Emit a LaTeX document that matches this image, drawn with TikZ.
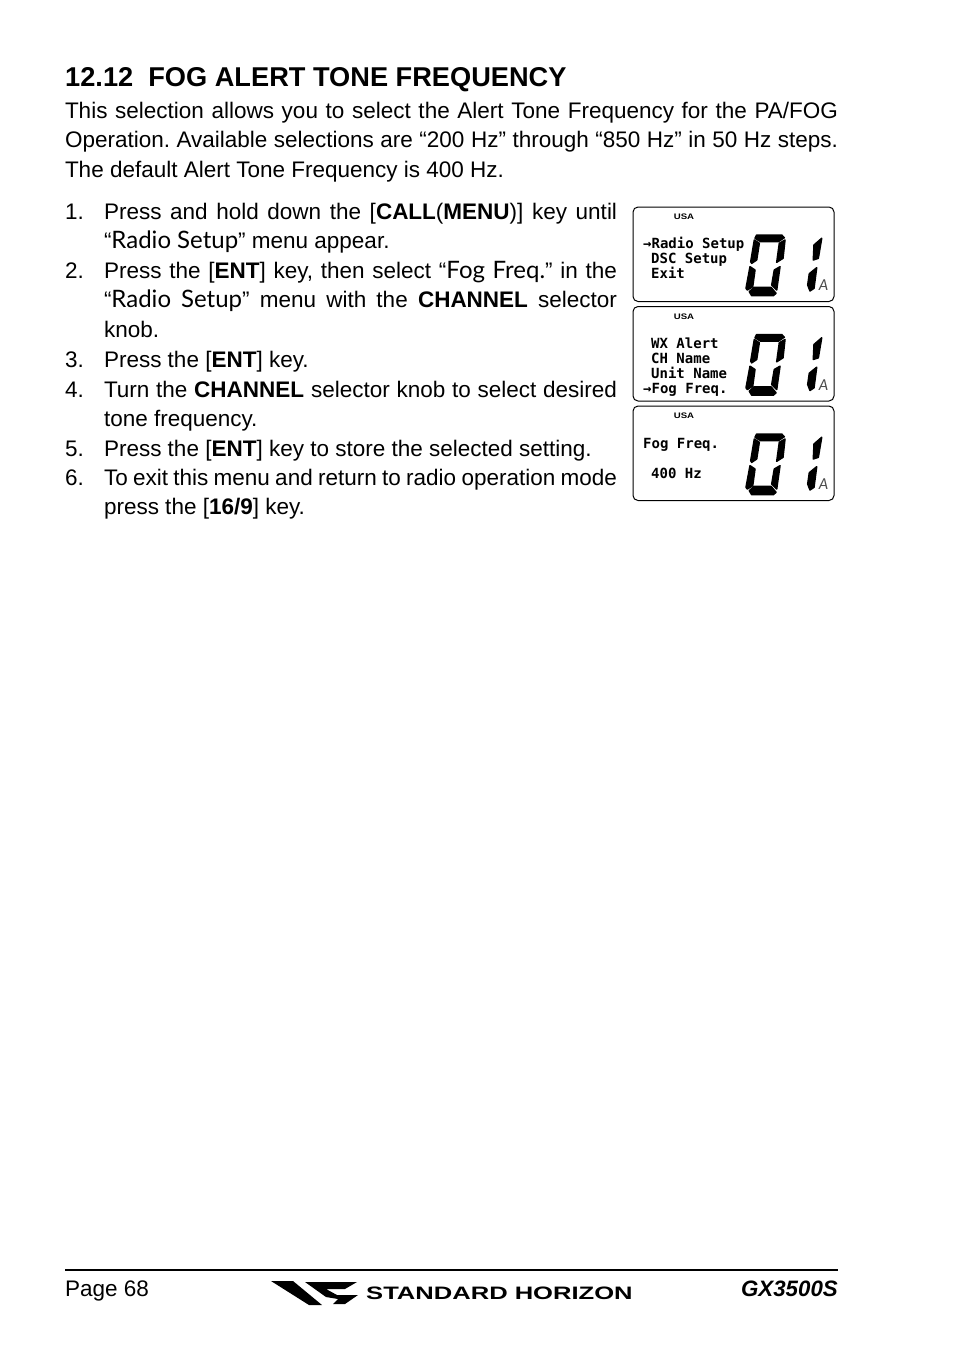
\documentclass[tikz,border=0pt]{standalone}
\usepackage{fontspec}
\setmainfont{Liberation Sans}
\newfontfamily\menufont{Lato}
\newfontfamily\lcdfont{DejaVu Sans Mono}
\usetikzlibrary{positioning}

\newcommand{\menutext}[1]{{\menufont\fontsize{24}{29.6}\selectfont #1}}
\frenchspacing

\tikzset{
  pagetext/.style={inner sep=0pt,outer sep=0pt,font=\fontsize{22.5}{29.6}\selectfont},
  stepnum/.style={pagetext,anchor=base west},
  stepbody/.style={pagetext,anchor=north west,text width=513pt,align=justify,
    execute at begin node=\strut},
  lcdbox/.style={draw=black,line width=1pt,rounded corners=5pt},
  lcdseg/.style={fill=black,draw=black,line width=1.5pt,line join=round},
  lcdline/.style={inner sep=0pt,anchor=base west,font=\lcdfont\bfseries\fontsize{14}{14}\selectfont},
  lcdusa/.style={inner sep=0pt,font=\bfseries\fontsize{8}{8}\selectfont},
  lcdpanel/.pic={
    \draw[lcdbox] (0,0) rectangle (201,94.5);
    \node[lcdusa] (-usa) at (51,10) {\scalebox{1.2}[1]{USA}};
    % digit 0
    \fill[lcdseg] (123.7,28) -- (148.7,28) -- (151.3,30.7) -- (145.3,34.7) -- (127.7,34.7) -- (122,31.3) -- cycle;
    \fill[lcdseg] (121.3,33) -- (126.3,36.3) -- (123.7,53) -- (118.7,56.3) -- (117.7,54.7) -- cycle;
    \fill[lcdseg] (152,33) -- (150,51.3) -- (143.7,55.3) -- (146.3,36.3) -- cycle;
    \fill[lcdseg] (117,59.7) -- (122,63) -- (119.7,79.7) -- (114.3,83) -- (113,81.3) -- cycle;
    \fill[lcdseg] (147,59.7) -- (143.7,83) -- (138.7,78) -- (141.3,63) -- cycle;
    \fill[lcdseg] (116.3,84.7) -- (121,80.3) -- (138,80.3) -- (143,86.3) -- (140.3,88.7) -- (118.7,88.7) -- cycle;
    % digit 1
    \fill[lcdseg] (188.7,31.3) -- (185.3,51.3) -- (180.3,53) -- (181,38) -- cycle;
    \fill[lcdseg] (183.7,60.7) -- (181,81.3) -- (177,84) -- (174.7,78) -- (176.3,66.7) -- cycle;
    \node[inner sep=0pt,font=\menufont\itshape\fontsize{15}{15}\selectfont,text=black!70] (-sub) at (190.5,78.5) {A};
  }
}

\begin{document}
\begin{tikzpicture}[x=1pt,y=-1pt]
  \useasboundingbox[fill=white] (0,0) rectangle (954,1352);

  \node[anchor=base west,inner sep=0pt,font=\bfseries\fontsize{27.2}{30}\selectfont] (title) at (65,86.5)
    {12.12\ \ FOG ALERT TONE FREQUENCY};
  \node[pagetext,anchor=north west,text width=773pt,align=justify,execute at begin node=\strut] (intro) at (65,97.3)
    {This selection allows you to select the Alert Tone Frequency for the PA/FOG\linebreak
     Operation. Available selections are “200 Hz” through “850 Hz” in 50 Hz steps.\linebreak
     The default Alert Tone Frequency is 400 Hz.};

  % steps
  \node[stepnum] (n1) at (65,219) {1.};
  \node[stepbody] (s1) at (104,198.3)
    {Press and hold down the [\textbf{CALL}(\textbf{MENU})] key until\linebreak
     “\menutext{Radio Setup}” menu appear.};
  \node[stepnum] (n2) at (65,278) {2.};
  \node[stepbody] (s2) at (104,257.5)
    {Press the [\textbf{ENT}] key, then select “\menutext{Fog Freq.}” in the\linebreak
     “\menutext{Radio Setup}” menu with the \textbf{CHANNEL} selector\linebreak
     knob.};
  \node[stepnum] (n3) at (65,367) {3.};
  \node[stepbody] (s3) at (104,346.3) {Press the [\textbf{ENT}] key.};
  \node[stepnum] (n4) at (65,397) {4.};
  \node[stepbody] (s4) at (104,376.3)
    {Turn the \textbf{CHANNEL} selector knob to select desired\linebreak
     tone frequency.};
  \node[stepnum] (n5) at (65,456) {5.};
  \node[stepbody] (s5) at (104,435.3) {Press the [\textbf{ENT}] key to store the selected setting.};
  \node[stepnum] (n6) at (65,485) {6.};
  \node[stepbody] (s6) at (104,464.5)
    {To exit this menu and return to radio operation mode\linebreak
     press the [\textbf{16/9}] key.};

  % lcd panels
  \pic (lcda) at (633,207) {lcdpanel};
  \pic (lcdb) at (633,306.5) {lcdpanel};
  \pic (lcdc) at (633,406) {lcdpanel};

  \node[lcdline] (a1) at (643,248) {→Radio Setup};
  \node[lcdline] (a2) at (651,263) {DSC Setup};
  \node[lcdline] (a3) at (651,278) {Exit};

  \node[lcdline] (b1) at (651,348) {WX Alert};
  \node[lcdline] (b2) at (651,363) {CH Name};
  \node[lcdline] (b3) at (651,378) {Unit Name};
  \node[lcdline] (b4) at (643,393) {→Fog Freq.};

  \node[lcdline] (c1) at (643,448) {Fog Freq.};
  \node[lcdline] (c2) at (651,478) {400 Hz};

  % footer
  \draw[line width=2pt] (65,1270) -- (838,1270);
  \node[stepnum] (page) at (65,1296.5) {Page 68};
  \node[anchor=base east,inner sep=0pt,font=\bfseries\itshape\fontsize{22.3}{26}\selectfont] (model) at (838,1296.5) {GX3500S};

  % logo
  \fill (271,1281) -- (293,1281) -- (322,1305) -- (309,1305) -- cycle;
  \fill (305,1282) -- (357,1282) -- (345,1289) -- (326,1289) -- (337,1295) -- (358,1295) -- (345,1304) -- (333,1304) -- (338,1299) -- (326,1297) -- cycle;
  \node[anchor=base west,inner sep=0pt,font=\bfseries\fontsize{18}{18}\selectfont] (logo) at (366,1299)
    {\scalebox{1.42}[1]{STANDARD HORIZON}};
\end{tikzpicture}
\end{document}
